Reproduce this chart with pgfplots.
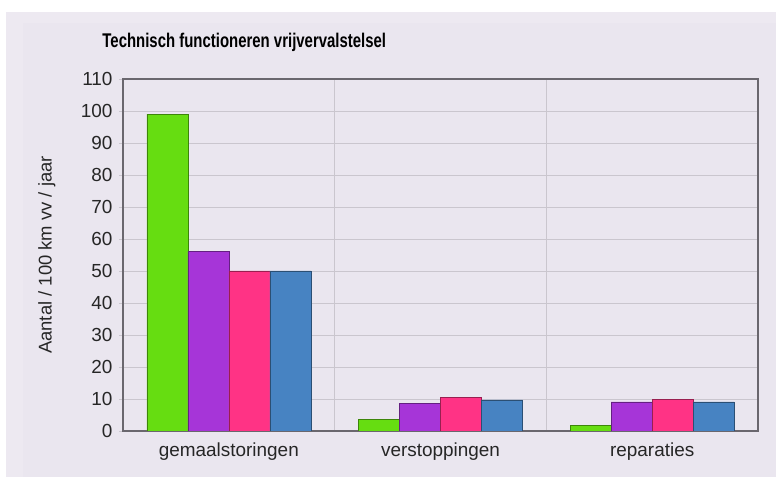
\documentclass[border=0pt]{standalone}
\usepackage{pgfplots}
\pgfplotsset{compat=1.18}
\usepackage{graphicx}
\usepackage{fontspec}
\setmainfont{Liberation Sans}
\definecolor{panel}{HTML}{EDE9F1}
\definecolor{plotbg}{HTML}{EAE6EF}
\definecolor{cgreen}{HTML}{66DD11}
\definecolor{cpurple}{HTML}{A635D8}
\definecolor{cpink}{HTML}{FF3385}
\definecolor{cblue}{HTML}{4783C2}
\definecolor{gridc}{HTML}{CAC6CE}
\definecolor{axisc}{HTML}{6A676E}
\begin{document}
\begin{tikzpicture}[x=1bp,y=1bp]
\path[use as bounding box] (0,0) rectangle (776,478);
\fill[white] (0,0) rectangle (776,478);
\fill[panel] (6,1) rectangle (776,466);
\fill[plotbg] (23,1) rectangle (776,455);
\begin{axis}[
  at={(123bp,47bp)}, anchor=south west,
  width=635bp, height=352bp, scale only axis,
  xmin=-0.5, xmax=2.5, ymin=0, ymax=110,
  ybar, bar width=41bp,
  xtick={0,1,2},
  xticklabels={gemaalstoringen,verstoppingen,reparaties},
  major x tick style={draw=none},
  minor xtick={0.5,1.5},
  minor x tick style={draw=none},
  xminorgrids=true,
  ytick={0,10,...,110},
  ymajorgrids=true,
  ytick pos=left, tick align=outside, major tick length=4bp,
  major y tick style={gridc, line width=0.8bp},
  grid style={gridc, line width=0.8bp},
  minor grid style={gridc, line width=0.8bp},
  axis line style={axisc, line width=1.5bp},
  axis background/.style={fill=plotbg},
  tick label style={font=\fontsize{19}{21}\selectfont, text=black!85},
  /pgf/number format/assume math mode=true,
  yticklabel style={xshift=-3bp},
  xticklabel style={yshift=-4bp},
  ylabel={Aantal / 100 km vv / jaar},
  every axis y label/.style={at={(axis description cs:-0.12,0.5)}, rotate=90, anchor=center, font=\fontsize{18.5}{21}\selectfont, text=black!85},
  every axis title/.style={at={(axis description cs:0.191,1.105)}, anchor=center, font=\fontsize{15.3}{17}\selectfont\bfseries},
  title={\scalebox{0.98}[1.3]{Technisch functioneren vrijvervalstelsel}},
  every axis plot/.append style={line width=0.6bp},
]
\addplot[fill=cgreen, draw=cgreen!60!black, bar shift=-61.5bp] coordinates {(0,99) (1,3.6) (2,1.8)};
\addplot[fill=cpurple, draw=cpurple!60!black, bar shift=-20.5bp] coordinates {(0,56) (1,8.6) (2,9.1)};
\addplot[fill=cpink, draw=cpink!60!black, bar shift=20.5bp] coordinates {(0,50) (1,10.4) (2,9.8)};
\addplot[fill=cblue, draw=cblue!60!black, bar shift=61.5bp] coordinates {(0,50) (1,9.7) (2,9.1)};
\end{axis}
\end{tikzpicture}
\end{document}
